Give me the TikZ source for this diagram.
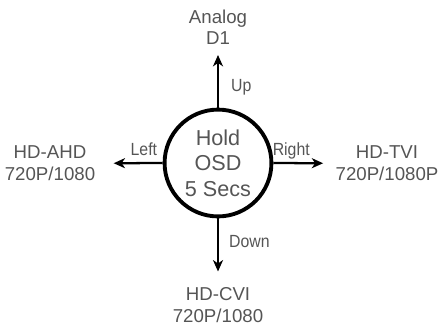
\documentclass[tikz,border=0pt]{standalone}
\usepackage{fontspec}
\setmainfont{Liberation Sans}
\newfontfamily\narrowsf[FakeStretch=0.9]{Liberation Sans}
\usetikzlibrary{arrows.meta}
\definecolor{txtgray}{HTML}{555555}

\tikzset{every picture/.style={line width=0.75pt}}

\begin{document}
\begin{tikzpicture}[x=0.75pt, y=-0.75pt,
    mode/.style={text=txtgray, align=center, inner sep=0pt, anchor=south,
        font=\fontsize{14}{16}\selectfont},
    dirarrow/.style={-{Stealth[length=8.5pt, width=7.5pt, inset=2.5pt]}, line width=1.7pt},
    dirlabel/.style={text=txtgray, inner sep=0pt,
        font=\narrowsf\fontsize{13.2}{15}\selectfont}]
    \useasboundingbox (0,0) rectangle (442,326);
    \node[circle, draw, line width=2.9pt, minimum size=79.5pt, text=txtgray, align=center,
        font=\fontsize{16.2}{19.2}\selectfont] (osd) at (218,163) {Hold\\OSD\\5 Secs};
    \node[mode] (analog) at (218,45) {Analog\\D1};
    \node[mode] (cvi) at (218,323) {HD-CVI\\720P/1080};
    \node[mode] (ahd) at (50,181) {HD-AHD\\720P/1080};
    \node[mode] (tvi) at (387,181) {HD-TVI\\720P/1080P};
    \draw[dirarrow, shorten >=7.5pt] (osd.north) -- node[dirlabel, pos=0.33, right=9pt] {Up} (analog.south);
    \draw[dirarrow, shorten >=12pt] (osd.south) -- node[dirlabel, pos=0.33, right=7.5pt] {Down} (cvi.north);
    \draw[dirarrow, shorten >=13.5pt] (osd.west) -- node[dirlabel, pos=0.28, above=4.5pt] {Left} (ahd.east);
    \draw[dirarrow, shorten >=9pt] (osd.east) -- node[dirlabel, pos=0.29, above=2pt] {Right} (tvi.west);
\end{tikzpicture}
\end{document}
